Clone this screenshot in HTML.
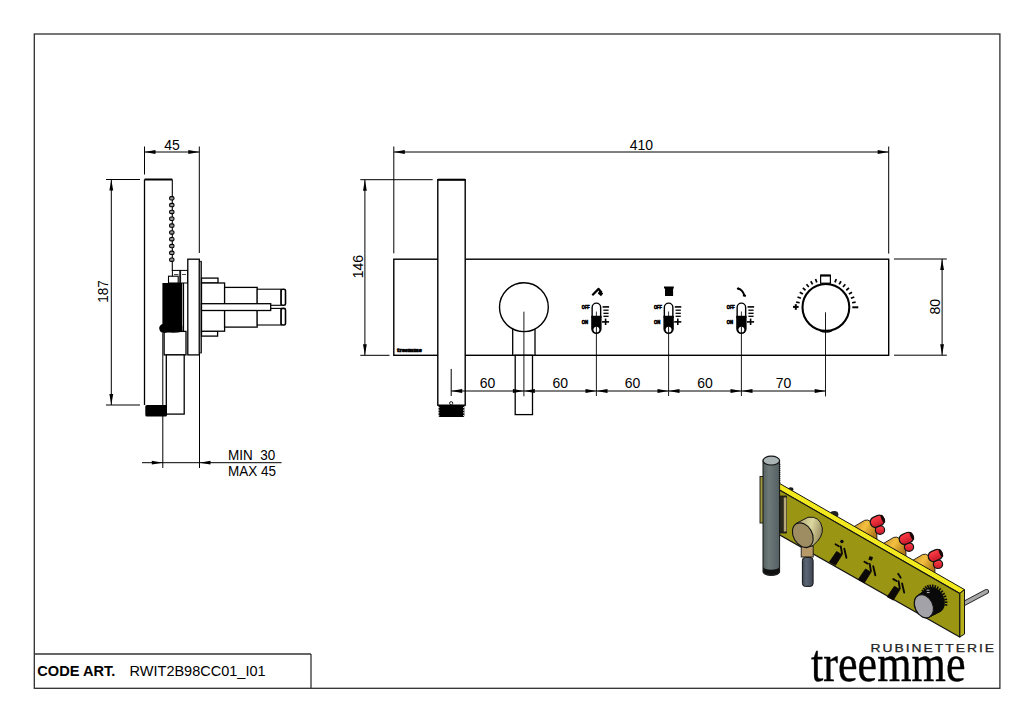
<!DOCTYPE html>
<html><head><meta charset="utf-8"><style>
html,body{margin:0;padding:0;background:#fff;overflow:hidden;}
svg{display:block;}
</style></head><body>
<svg width="1024" height="723" viewBox="0 0 1024 723">
<rect x="0" y="0" width="1024" height="723" fill="#fff"/>
<rect x="34.3" y="34.0" width="965.6" height="654.3" fill="none" stroke="#2e2e2e" stroke-width="1.3"/>
<line x1="34.5" y1="654" x2="311" y2="654" stroke="#333" stroke-width="1.3"/>
<line x1="311" y1="654" x2="311" y2="688" stroke="#333" stroke-width="1.3"/>
<text x="0" y="0" font-family="Liberation Sans" font-size="14.6" text-anchor="start" font-weight="bold" fill="#000" transform="translate(37.3 675.6)" >CODE ART.</text>
<text x="0" y="0" font-family="Liberation Sans" font-size="14.5" text-anchor="start" font-weight="normal" fill="#000" transform="translate(129.6 675.6)" >RWIT2B98CC01_I01</text>
<line x1="144.5" y1="179.5" x2="144.5" y2="405" stroke="#000" stroke-width="1.3"/>
<line x1="144.5" y1="179.5" x2="172.3" y2="179.5" stroke="#000" stroke-width="2.0"/>
<line x1="172.3" y1="179.5" x2="172.3" y2="271" stroke="#000" stroke-width="1.1"/>
<rect x="169.60" y="196.60" width="4.4" height="3.4" rx="1.4" fill="#999" stroke="#000" stroke-width="1.1"/>
<rect x="169.60" y="203.42" width="4.4" height="3.4" rx="1.4" fill="#999" stroke="#000" stroke-width="1.1"/>
<rect x="169.60" y="210.24" width="4.4" height="3.4" rx="1.4" fill="#999" stroke="#000" stroke-width="1.1"/>
<rect x="169.60" y="217.06" width="4.4" height="3.4" rx="1.4" fill="#999" stroke="#000" stroke-width="1.1"/>
<rect x="169.60" y="223.88" width="4.4" height="3.4" rx="1.4" fill="#999" stroke="#000" stroke-width="1.1"/>
<rect x="169.60" y="230.70" width="4.4" height="3.4" rx="1.4" fill="#999" stroke="#000" stroke-width="1.1"/>
<rect x="169.60" y="237.52" width="4.4" height="3.4" rx="1.4" fill="#999" stroke="#000" stroke-width="1.1"/>
<rect x="169.60" y="244.34" width="4.4" height="3.4" rx="1.4" fill="#999" stroke="#000" stroke-width="1.1"/>
<rect x="169.60" y="251.16" width="4.4" height="3.4" rx="1.4" fill="#999" stroke="#000" stroke-width="1.1"/>
<rect x="169.60" y="257.98" width="4.4" height="3.4" rx="1.4" fill="#999" stroke="#000" stroke-width="1.1"/>
<rect x="172.4" y="270.4" width="7.4" height="12.6" fill="#fff" stroke="#000" stroke-width="1.0"/>
<rect x="180.6" y="270.4" width="6.9" height="12.6" fill="#fff" stroke="#000" stroke-width="1.0"/>
<line x1="174" y1="274.5" x2="178.5" y2="274.5" stroke="#000" stroke-width="0.7"/>
<line x1="182" y1="274.5" x2="186" y2="274.5" stroke="#000" stroke-width="0.7"/>
<rect x="168.5" y="276.2" width="9.7" height="6.8" fill="#fff" stroke="#000" stroke-width="1.1"/>
<rect x="162.4" y="283" width="19.9" height="48.4" fill="#000"/>
<line x1="183.5" y1="283" x2="183.5" y2="331.4" stroke="#000" stroke-width="1.2"/>
<rect x="164.1" y="331.4" width="21.9" height="23.5" fill="#fff" stroke="#000" stroke-width="1.3"/>
<path d="M162.5 324 Q159 325.5 159.2 328.5 Q159.8 332.5 163.5 333 Q167 332.2 170 332.6 Q176 333 182.3 331.8 L182.3 326 Z" fill="#000"/>
<path d="M145 409.00 h1.2" stroke="#fff" stroke-width="0.8"/>
<path d="M145 411.40 h1.2" stroke="#fff" stroke-width="0.8"/>
<path d="M145 413.80 h1.2" stroke="#fff" stroke-width="0.8"/>
<path d="M145 416.20 h1.2" stroke="#fff" stroke-width="0.8"/>
<rect x="166.3" y="354.9" width="17.9" height="59.2" fill="#fff" stroke="#000" stroke-width="1.3"/>
<rect x="145.3" y="405" width="21.7" height="11.6" rx="1.5" fill="#000"/>
<rect x="187.8" y="259.2" width="11.5" height="95.7" fill="#fff" stroke="#000" stroke-width="1.3"/>
<rect x="199.3" y="261.3" width="2.2" height="91.7" fill="#888" stroke="#000" stroke-width="0.8"/>
<rect x="201.5" y="278.1" width="16.5" height="4.9" fill="#fff" stroke="#000" stroke-width="1.3"/>
<rect x="201.5" y="331.2" width="16.1" height="4.9" fill="#fff" stroke="#000" stroke-width="1.3"/>
<rect x="201.5" y="283" width="23.1" height="48.2" fill="#fff" stroke="#000" stroke-width="1.3"/>
<rect x="224.6" y="287.4" width="32.6" height="39.7" fill="#fff" stroke="#000" stroke-width="1.3"/>
<rect x="257.2" y="289.2" width="23.9" height="16.1" fill="#fff" stroke="#000" stroke-width="1.1"/>
<rect x="257.2" y="308.4" width="23.9" height="16.6" fill="#fff" stroke="#000" stroke-width="1.1"/>
<rect x="281.1" y="289.2" width="4.4" height="16.1" rx="1.6" fill="#fff" stroke="#000" stroke-width="1.6"/>
<rect x="281.1" y="308.4" width="4.4" height="16.6" rx="1.6" fill="#fff" stroke="#000" stroke-width="1.6"/>
<rect x="201.5" y="303.7" width="69.2" height="6.8" fill="#fff" stroke="#000" stroke-width="1.3"/>
<rect x="393.8" y="259.2" width="494.9" height="96.1" fill="#fff" stroke="#000" stroke-width="1.4"/>
<rect x="437.8" y="179.7" width="27.4" height="225.5" fill="#fff" stroke="#000" stroke-width="1.4"/>
<line x1="437.8" y1="179.7" x2="465.2" y2="179.7" stroke="#000" stroke-width="2.0"/>
<rect x="438.5" y="405" width="25.9" height="12.1" rx="1.5" fill="#000"/>
<circle cx="451.2" cy="403.2" r="1.6" fill="#fff" stroke="#000" stroke-width="0.9"/>
<path d="M438 407.60 h1.4 M464.4 407.60 h-1.4" stroke="#fff" stroke-width="0.9"/>
<path d="M438 410.20 h1.4 M464.4 410.20 h-1.4" stroke="#fff" stroke-width="0.9"/>
<path d="M438 412.80 h1.4 M464.4 412.80 h-1.4" stroke="#fff" stroke-width="0.9"/>
<path d="M438 415.40 h1.4 M464.4 415.40 h-1.4" stroke="#fff" stroke-width="0.9"/>
<text x="397" y="352.4" font-family="Liberation Serif" font-size="6" font-weight="bold" fill="#000" stroke="#000" stroke-width="0.7" textLength="24.6" lengthAdjust="spacingAndGlyphs">treemme</text>
<path d="M512.7 355.3 V325 M535 355.3 V325" stroke="#000" stroke-width="1.3"/>
<circle cx="523.9" cy="307.2" r="24.4" fill="#fff" stroke="#000" stroke-width="1.4"/>
<rect x="515.2" y="355.3" width="17.3" height="59.3" fill="#fff" stroke="#000" stroke-width="1.3"/>
<line x1="523.9" y1="311.7" x2="523.9" y2="396.3" stroke="#000" stroke-width="0.9"/>
<line x1="852.1" y1="302.73" x2="855.64" y2="302.11" stroke="#000" stroke-width="1.7"/>
<line x1="850.9" y1="298.25" x2="854.28" y2="297.02" stroke="#000" stroke-width="1.7"/>
<line x1="848.94" y1="294.05" x2="852.05" y2="292.25" stroke="#000" stroke-width="1.7"/>
<line x1="846.28" y1="290.25" x2="849.03" y2="287.94" stroke="#000" stroke-width="1.7"/>
<line x1="843.0" y1="286.97" x2="845.31" y2="284.22" stroke="#000" stroke-width="1.7"/>
<line x1="839.2" y1="284.31" x2="841.0" y2="281.2" stroke="#000" stroke-width="1.7"/>
<line x1="835.0" y1="282.35" x2="836.23" y2="278.97" stroke="#000" stroke-width="1.7"/>
<line x1="816.8" y1="282.35" x2="815.57" y2="278.97" stroke="#000" stroke-width="1.7"/>
<line x1="812.6" y1="284.31" x2="810.8" y2="281.2" stroke="#000" stroke-width="1.7"/>
<line x1="808.8" y1="286.97" x2="806.49" y2="284.22" stroke="#000" stroke-width="1.7"/>
<line x1="805.52" y1="290.25" x2="802.77" y2="287.94" stroke="#000" stroke-width="1.7"/>
<line x1="802.86" y1="294.05" x2="799.75" y2="292.25" stroke="#000" stroke-width="1.7"/>
<line x1="800.9" y1="298.25" x2="797.52" y2="297.02" stroke="#000" stroke-width="1.7"/>
<line x1="799.7" y1="302.73" x2="796.16" y2="302.11" stroke="#000" stroke-width="1.7"/>
<rect x="820.6" y="275.2" width="9.8" height="8" fill="#fff" stroke="#000" stroke-width="1.2"/>
<line x1="820.6" y1="275.6" x2="830.4" y2="275.6" stroke="#000" stroke-width="2"/>
<circle cx="825.9" cy="307.35" r="23.4" fill="#fff" stroke="#000" stroke-width="2.1"/>
<path d="M820 330.6 Q826 333.5 832 330.6" stroke="#000" stroke-width="1.6" fill="none"/>
<line x1="793" y1="306.9" x2="798.6" y2="306.9" stroke="#000" stroke-width="2"/>
<line x1="795.8" y1="304.2" x2="795.8" y2="309.8" stroke="#000" stroke-width="2"/>
<line x1="852.3" y1="307.3" x2="858.3" y2="307.3" stroke="#000" stroke-width="2"/>
<line x1="825.5" y1="312.3" x2="825.5" y2="396.4" stroke="#000" stroke-width="0.9"/>
<line x1="602.6" y1="306.9" x2="609.1" y2="306.9" stroke="#000" stroke-width="1.6"/>
<line x1="603.4" y1="310.2" x2="608.6" y2="310.2" stroke="#000" stroke-width="1.3"/>
<line x1="603.4" y1="313.3" x2="608.6" y2="313.3" stroke="#000" stroke-width="1.3"/>
<line x1="603.4" y1="316.3" x2="608.6" y2="316.3" stroke="#000" stroke-width="1.3"/>
<line x1="602.0" y1="321.9" x2="609.1" y2="321.9" stroke="#000" stroke-width="1.6"/>
<line x1="605.6" y1="318.6" x2="605.6" y2="325.0" stroke="#000" stroke-width="1.6"/>
<path d="M592.15 318 V307.4 A4.25 4.25 0 0 1 600.65 307.4 V318" fill="#fff" stroke="#000" stroke-width="1.4"/>
<line x1="596.4" y1="311.5" x2="596.4" y2="316" stroke="#000" stroke-width="0.8"/>
<path d="M591.1999999999999 315.8 H601.6 V328.8 A5.2 5.2 0 0 1 591.1999999999999 328.8 Z" fill="#000"/>
<circle cx="596.4" cy="329.6" r="2.9" fill="#fff"/>
<line x1="596.4" y1="326.5" x2="596.4" y2="396" stroke="#000" stroke-width="0.9"/>
<text x="581.8" y="309.2" font-family="Liberation Sans" font-size="4.6" font-weight="bold" fill="#000" stroke="#000" stroke-width="0.55" textLength="8" lengthAdjust="spacingAndGlyphs">OFF</text>
<text x="581.8" y="324.2" font-family="Liberation Sans" font-size="4.6" font-weight="bold" fill="#000" stroke="#000" stroke-width="0.55" textLength="6.3" lengthAdjust="spacingAndGlyphs">ON</text>
<line x1="674.8000000000001" y1="306.9" x2="681.3000000000001" y2="306.9" stroke="#000" stroke-width="1.6"/>
<line x1="675.6" y1="310.2" x2="680.8000000000001" y2="310.2" stroke="#000" stroke-width="1.3"/>
<line x1="675.6" y1="313.3" x2="680.8000000000001" y2="313.3" stroke="#000" stroke-width="1.3"/>
<line x1="675.6" y1="316.3" x2="680.8000000000001" y2="316.3" stroke="#000" stroke-width="1.3"/>
<line x1="674.2" y1="321.9" x2="681.3000000000001" y2="321.9" stroke="#000" stroke-width="1.6"/>
<line x1="677.8000000000001" y1="318.6" x2="677.8000000000001" y2="325.0" stroke="#000" stroke-width="1.6"/>
<path d="M664.35 318 V307.4 A4.25 4.25 0 0 1 672.85 307.4 V318" fill="#fff" stroke="#000" stroke-width="1.4"/>
<line x1="668.6" y1="311.5" x2="668.6" y2="316" stroke="#000" stroke-width="0.8"/>
<path d="M663.4 315.8 H673.8000000000001 V328.8 A5.2 5.2 0 0 1 663.4 328.8 Z" fill="#000"/>
<circle cx="668.6" cy="329.6" r="2.9" fill="#fff"/>
<line x1="668.6" y1="326.5" x2="668.6" y2="396" stroke="#000" stroke-width="0.9"/>
<text x="654.0" y="309.2" font-family="Liberation Sans" font-size="4.6" font-weight="bold" fill="#000" stroke="#000" stroke-width="0.55" textLength="8" lengthAdjust="spacingAndGlyphs">OFF</text>
<text x="654.0" y="324.2" font-family="Liberation Sans" font-size="4.6" font-weight="bold" fill="#000" stroke="#000" stroke-width="0.55" textLength="6.3" lengthAdjust="spacingAndGlyphs">ON</text>
<line x1="747.6" y1="306.9" x2="754.1" y2="306.9" stroke="#000" stroke-width="1.6"/>
<line x1="748.4" y1="310.2" x2="753.6" y2="310.2" stroke="#000" stroke-width="1.3"/>
<line x1="748.4" y1="313.3" x2="753.6" y2="313.3" stroke="#000" stroke-width="1.3"/>
<line x1="748.4" y1="316.3" x2="753.6" y2="316.3" stroke="#000" stroke-width="1.3"/>
<line x1="747.0" y1="321.9" x2="754.1" y2="321.9" stroke="#000" stroke-width="1.6"/>
<line x1="750.6" y1="318.6" x2="750.6" y2="325.0" stroke="#000" stroke-width="1.6"/>
<path d="M737.15 318 V307.4 A4.25 4.25 0 0 1 745.65 307.4 V318" fill="#fff" stroke="#000" stroke-width="1.4"/>
<line x1="741.4" y1="311.5" x2="741.4" y2="316" stroke="#000" stroke-width="0.8"/>
<path d="M736.1999999999999 315.8 H746.6 V328.8 A5.2 5.2 0 0 1 736.1999999999999 328.8 Z" fill="#000"/>
<circle cx="741.4" cy="329.6" r="2.9" fill="#fff"/>
<line x1="741.4" y1="326.5" x2="741.4" y2="396" stroke="#000" stroke-width="0.9"/>
<text x="726.8" y="309.2" font-family="Liberation Sans" font-size="4.6" font-weight="bold" fill="#000" stroke="#000" stroke-width="0.55" textLength="8" lengthAdjust="spacingAndGlyphs">OFF</text>
<text x="726.8" y="324.2" font-family="Liberation Sans" font-size="4.6" font-weight="bold" fill="#000" stroke="#000" stroke-width="0.55" textLength="6.3" lengthAdjust="spacingAndGlyphs">ON</text>
<path d="M592.3 295.2 L598.6 288.9 L601.8 292.6" stroke="#000" stroke-width="2.2" fill="none" stroke-linejoin="round"/>
<path d="M599.5 290.5 L603.2 293.6 L601 296.3 L597.8 293.4 Z" fill="#000"/>
<path d="M664 286.4 H673.8 V288.6 H673.1 V296.1 H665 V288.6 H664 Z" fill="#000"/>
<path d="M737.8 288.4 Q742.5 289.2 744.6 295.8" stroke="#000" stroke-width="2" fill="none"/>
<path d="M743 293.5 L746.2 295.2 L745.5 297 L742.8 296.3 Z" fill="#000"/>
<circle cx="738.1" cy="288.6" r="1.2" fill="#000"/>
<line x1="144.5" y1="146.5" x2="144.5" y2="174.5" stroke="#000" stroke-width="1"/>
<line x1="199.3" y1="146.5" x2="199.3" y2="253" stroke="#000" stroke-width="1"/>
<line x1="144.5" y1="152" x2="199.3" y2="152" stroke="#000" stroke-width="1"/>
<polygon points="144.50,152.00 155.50,150.10 155.50,153.90" fill="#000"/>
<polygon points="199.30,152.00 188.30,150.10 188.30,153.90" fill="#000"/>
<text x="0" y="0" font-family="Liberation Sans" font-size="14" text-anchor="middle" font-weight="normal" fill="#000" transform="translate(172 149.5) scale(1 1.08)" >45</text>
<line x1="106" y1="179.5" x2="140" y2="179.5" stroke="#000" stroke-width="1"/>
<line x1="106" y1="405" x2="140" y2="405" stroke="#000" stroke-width="1"/>
<line x1="111.3" y1="179.5" x2="111.3" y2="405" stroke="#000" stroke-width="1"/>
<polygon points="111.30,179.50 109.40,190.50 113.20,190.50" fill="#000"/>
<polygon points="111.30,405.00 109.40,394.00 113.20,394.00" fill="#000"/>
<text x="0" y="0" font-family="Liberation Sans" font-size="13.5" text-anchor="middle" font-weight="normal" fill="#000" transform="translate(108.2 291.6) rotate(-90) scale(1 1.08)" >187</text>
<line x1="162.8" y1="333" x2="162.8" y2="468" stroke="#000" stroke-width="1"/>
<line x1="199.5" y1="355" x2="199.5" y2="468" stroke="#000" stroke-width="1"/>
<line x1="142" y1="462.7" x2="281.6" y2="462.7" stroke="#000" stroke-width="1"/>
<polygon points="162.80,462.70 151.80,460.80 151.80,464.60" fill="#000"/>
<polygon points="199.50,462.70 210.50,460.80 210.50,464.60" fill="#000"/>
<text x="0" y="0" font-family="Liberation Sans" font-size="13.5" text-anchor="start" font-weight="normal" fill="#000" transform="translate(228 459.5) scale(1 1.08)" >MIN&#160;&#160;30</text>
<text x="0" y="0" font-family="Liberation Sans" font-size="13.5" text-anchor="start" font-weight="normal" fill="#000" transform="translate(228 475.5) scale(1 1.08)" >MAX 45</text>
<line x1="393.8" y1="146.5" x2="393.8" y2="253.3" stroke="#000" stroke-width="1"/>
<line x1="888.7" y1="146.5" x2="888.7" y2="253.6" stroke="#000" stroke-width="1"/>
<line x1="393.8" y1="152" x2="888.7" y2="152" stroke="#000" stroke-width="1"/>
<polygon points="393.80,152.00 404.80,150.10 404.80,153.90" fill="#000"/>
<polygon points="888.70,152.00 877.70,150.10 877.70,153.90" fill="#000"/>
<text x="0" y="0" font-family="Liberation Sans" font-size="14" text-anchor="middle" font-weight="normal" fill="#000" transform="translate(641.4 149.7) scale(1 1.08)" >410</text>
<line x1="360.3" y1="179.7" x2="432.7" y2="179.7" stroke="#000" stroke-width="1"/>
<line x1="360.3" y1="355.3" x2="389.5" y2="355.3" stroke="#000" stroke-width="1"/>
<line x1="364.9" y1="179.7" x2="364.9" y2="355.3" stroke="#000" stroke-width="1"/>
<polygon points="364.90,179.70 363.00,190.70 366.80,190.70" fill="#000"/>
<polygon points="364.90,355.30 363.00,344.30 366.80,344.30" fill="#000"/>
<text x="0" y="0" font-family="Liberation Sans" font-size="14" text-anchor="middle" font-weight="normal" fill="#000" transform="translate(363.4 266.6) rotate(-90) scale(1 1.08)" >146</text>
<line x1="894" y1="259" x2="946.8" y2="259" stroke="#000" stroke-width="1"/>
<line x1="894" y1="355.2" x2="946.8" y2="355.2" stroke="#000" stroke-width="1"/>
<line x1="942.1" y1="259" x2="942.1" y2="355.2" stroke="#000" stroke-width="1"/>
<polygon points="942.10,259.00 940.20,270.00 944.00,270.00" fill="#000"/>
<polygon points="942.10,355.20 940.20,344.20 944.00,344.20" fill="#000"/>
<text x="0" y="0" font-family="Liberation Sans" font-size="14" text-anchor="middle" font-weight="normal" fill="#000" transform="translate(939.8 306.8) rotate(-90) scale(1 1.08)" >80</text>
<line x1="451.2" y1="368.9" x2="451.2" y2="396" stroke="#000" stroke-width="1"/>
<line x1="451.2" y1="391" x2="825.7" y2="391" stroke="#000" stroke-width="1"/>
<polygon points="451.20,391.00 462.20,389.10 462.20,392.90" fill="#000"/>
<polygon points="523.90,391.00 512.90,389.10 512.90,392.90" fill="#000"/>
<text x="0" y="0" font-family="Liberation Sans" font-size="14" text-anchor="middle" font-weight="normal" fill="#000" transform="translate(487.54999999999995 388.2) scale(1 1.08)" >60</text>
<polygon points="523.90,391.00 534.90,389.10 534.90,392.90" fill="#000"/>
<polygon points="596.50,391.00 585.50,389.10 585.50,392.90" fill="#000"/>
<text x="0" y="0" font-family="Liberation Sans" font-size="14" text-anchor="middle" font-weight="normal" fill="#000" transform="translate(560.2 388.2) scale(1 1.08)" >60</text>
<polygon points="596.50,391.00 607.50,389.10 607.50,392.90" fill="#000"/>
<polygon points="668.50,391.00 657.50,389.10 657.50,392.90" fill="#000"/>
<text x="0" y="0" font-family="Liberation Sans" font-size="14" text-anchor="middle" font-weight="normal" fill="#000" transform="translate(632.5 388.2) scale(1 1.08)" >60</text>
<polygon points="668.50,391.00 679.50,389.10 679.50,392.90" fill="#000"/>
<polygon points="741.50,391.00 730.50,389.10 730.50,392.90" fill="#000"/>
<text x="0" y="0" font-family="Liberation Sans" font-size="14" text-anchor="middle" font-weight="normal" fill="#000" transform="translate(705.0 388.2) scale(1 1.08)" >60</text>
<polygon points="741.50,391.00 752.50,389.10 752.50,392.90" fill="#000"/>
<polygon points="825.70,391.00 814.70,389.10 814.70,392.90" fill="#000"/>
<text x="0" y="0" font-family="Liberation Sans" font-size="14" text-anchor="middle" font-weight="normal" fill="#000" transform="translate(783.6 388.2) scale(1 1.08)" >70</text>
<defs>
<linearGradient id="gold" x1="0" y1="0" x2="1" y2="0.6"><stop offset="0" stop-color="#c89028"/><stop offset="0.5" stop-color="#f4c040"/><stop offset="1" stop-color="#b07818"/></linearGradient>
<linearGradient id="pole" x1="0" y1="0" x2="1" y2="0"><stop offset="0" stop-color="#56625f"/><stop offset="0.35" stop-color="#6e7a7a"/><stop offset="1" stop-color="#525e60"/></linearGradient>
<linearGradient id="stub" x1="0" y1="0" x2="1" y2="0"><stop offset="0" stop-color="#3e4654"/><stop offset="0.35" stop-color="#5c6674"/><stop offset="1" stop-color="#3e4654"/></linearGradient>
<linearGradient id="puckside" x1="0" y1="0" x2="1" y2="0.3"><stop offset="0" stop-color="#a89a6c"/><stop offset="0.6" stop-color="#dcd8a0"/><stop offset="1" stop-color="#a09466"/></linearGradient>
<linearGradient id="red" x1="0" y1="0" x2="0" y2="1"><stop offset="0" stop-color="#ff4048"/><stop offset="1" stop-color="#c81828"/></linearGradient>
</defs>
<rect x="760" y="476.5" width="4" height="46.5" fill="#a09a3c" stroke="#141414" stroke-width="0.9"/>
<ellipse cx="790.8" cy="489.6" rx="2.6" ry="2.3" fill="#1a1a1a"/>
<ellipse cx="834.2" cy="514.4" rx="4.2" ry="3.4" fill="#222"/>
<path d="M854.40,526.40 L864.70,520.30 Q867.60,519.20 870.50,521.40 Q875.90,525.20 876.90,535.00 L876.90,540.00 L854.40,529.50 Z" fill="url(#gold)" stroke="#141414" stroke-width="0.9"/>
<ellipse cx="880.00" cy="530.00" rx="4.6" ry="4.3" fill="url(#red)" stroke="#141414" stroke-width="1.2"/>
<rect x="870.10" y="516.10" width="14.4" height="10.4" rx="5" fill="url(#red)" stroke="#141414" stroke-width="1.3" transform="rotate(-24 877.30 521.30)"/>
<ellipse cx="882.90" cy="518.80" rx="1.5" ry="4.3" fill="#1a0808" transform="rotate(-24 882.90 518.80)"/>
<path d="M883.40,543.50 L893.70,537.40 Q896.60,536.30 899.50,538.50 Q904.90,542.30 905.90,552.10 L905.90,557.10 L883.40,546.60 Z" fill="url(#gold)" stroke="#141414" stroke-width="0.9"/>
<ellipse cx="909.00" cy="547.10" rx="4.6" ry="4.3" fill="url(#red)" stroke="#141414" stroke-width="1.2"/>
<rect x="899.10" y="533.20" width="14.4" height="10.4" rx="5" fill="url(#red)" stroke="#141414" stroke-width="1.3" transform="rotate(-24 906.30 538.40)"/>
<ellipse cx="911.90" cy="535.90" rx="1.5" ry="4.3" fill="#1a0808" transform="rotate(-24 911.90 535.90)"/>
<path d="M912.40,560.60 L922.70,554.50 Q925.60,553.40 928.50,555.60 Q933.90,559.40 934.90,569.20 L934.90,574.20 L912.40,563.70 Z" fill="url(#gold)" stroke="#141414" stroke-width="0.9"/>
<ellipse cx="938.00" cy="564.20" rx="4.6" ry="4.3" fill="url(#red)" stroke="#141414" stroke-width="1.2"/>
<rect x="928.10" y="550.30" width="14.4" height="10.4" rx="5" fill="url(#red)" stroke="#141414" stroke-width="1.3" transform="rotate(-24 935.30 555.50)"/>
<ellipse cx="940.90" cy="553.00" rx="1.5" ry="4.3" fill="#1a0808" transform="rotate(-24 940.90 553.00)"/>
<line x1="963" y1="604" x2="986.5" y2="591.5" stroke="#222" stroke-width="5" stroke-linecap="round"/>
<line x1="963" y1="604" x2="986.5" y2="591.5" stroke="#a8a8a8" stroke-width="3.2" stroke-linecap="round"/>
<polygon points="772.00,479.11 964.50,589.60 959.70,593.40 772.00,485.66" fill="#f2ea1e" stroke="#141414" stroke-width="1"/>
<polygon points="959.70,593.40 964.50,589.60 964.50,634.10 959.70,637.00" fill="#b8b01a" stroke="#141414" stroke-width="1"/>
<polygon points="772.00,485.66 959.70,593.40 959.70,637.00 772.00,530.57" fill="#9a9614" stroke="#141414" stroke-width="1.1"/>
<rect x="779.5" y="496" width="7" height="37" fill="#2a281c" stroke="#141414" stroke-width="0.8"/>
<rect x="783.8" y="497.5" width="2.6" height="34" fill="#b8a878"/>
<path d="M763 460.5 V572 A8.3 3.5 0 0 0 779.6 572 V460.5 Z" fill="url(#pole)" stroke="#141414" stroke-width="1"/>
<path d="M763.3 567 A8.1 3.2 0 0 0 779.3 567 V572 A8.1 3.6 0 0 1 763.3 572 Z" fill="#111"/>
<ellipse cx="771.3" cy="460.6" rx="8.3" ry="4.4" fill="#aab4b4" stroke="#141414" stroke-width="1.2"/>
<line x1="779.6" y1="464" x2="779.6" y2="484" stroke="#111" stroke-width="1.4" stroke-dasharray="1 1"/>
<rect x="801.2" y="546" width="12" height="11" fill="#b89a6a" stroke="#141414" stroke-width="0.9"/>
<rect x="802.4" y="557.4" width="10.7" height="29" rx="3" fill="url(#stub)" stroke="#141414" stroke-width="1"/>
<path d="M796 523.5 L808 517.3 Q820 515.5 822.3 528 Q823.5 537 813 545.5 L806 548 Z" fill="url(#puckside)" stroke="#141414" stroke-width="1"/>
<ellipse cx="802.8" cy="535.1" rx="9.4" ry="13.0" fill="#9e8c62" stroke="#141414" stroke-width="1.1" transform="rotate(-30 802.8 535.1)"/>
<polygon points="829.40,562.00 835.50,565.30 842.10,554.80 836.60,551.50" fill="#0c0808" stroke="#0c0808" stroke-width="0.8" stroke-linejoin="round"/>
<circle cx="841.90" cy="541.50" r="1.7" fill="#0c0808"/>
<path d="M835.50,544.30 L838.80,546.20 M840.80,546.50 L842.00,553.70 M844.30,548.70 L846.40,557.80" stroke="#0c0808" stroke-width="1.9" fill="none" stroke-linecap="round"/>
<polygon points="858.30,579.40 864.40,582.70 871.00,572.20 865.50,568.90" fill="#0c0808" stroke="#0c0808" stroke-width="0.8" stroke-linejoin="round"/>
<rect x="868.90" y="556.40" width="3.6" height="3.8" fill="#0c0808" transform="rotate(20 870.70 558.40)"/>
<path d="M864.40,561.70 L867.70,563.60 M869.70,563.90 L870.90,571.10 M873.20,566.10 L875.30,575.20" stroke="#0c0808" stroke-width="1.9" fill="none" stroke-linecap="round"/>
<polygon points="887.20,596.80 893.30,600.10 899.90,589.60 894.40,586.30" fill="#0c0808" stroke="#0c0808" stroke-width="0.8" stroke-linejoin="round"/>
<path d="M898.20,573.80 L900.70,577.80" stroke="#0c0808" stroke-width="1.8" stroke-linecap="round"/>
<path d="M893.30,579.10 L896.60,581.00 M898.60,581.30 L899.80,588.50 M902.10,583.50 L904.20,592.60" stroke="#0c0808" stroke-width="1.9" fill="none" stroke-linecap="round"/>
<ellipse cx="933.80" cy="600.00" rx="10.30" ry="13.60" fill="#0a0a0a" transform="rotate(-28 933.80 600.00)"/>
<ellipse cx="932.39" cy="600.89" rx="10.17" ry="13.46" fill="#0a0a0a" transform="rotate(-28 932.39 600.89)"/>
<ellipse cx="930.97" cy="601.77" rx="10.04" ry="13.31" fill="#0a0a0a" transform="rotate(-28 930.97 601.77)"/>
<ellipse cx="929.56" cy="602.66" rx="9.91" ry="13.17" fill="#0a0a0a" transform="rotate(-28 929.56 602.66)"/>
<ellipse cx="928.14" cy="603.54" rx="9.79" ry="13.03" fill="#0a0a0a" transform="rotate(-28 928.14 603.54)"/>
<ellipse cx="926.73" cy="604.43" rx="9.66" ry="12.89" fill="#0a0a0a" transform="rotate(-28 926.73 604.43)"/>
<ellipse cx="925.31" cy="605.31" rx="9.53" ry="12.74" fill="#0a0a0a" transform="rotate(-28 925.31 605.31)"/>
<ellipse cx="923.90" cy="606.20" rx="9.40" ry="12.60" fill="#0a0a0a" transform="rotate(-28 923.90 606.20)"/>
<line x1="924.14" y1="591.84" x2="921.74" y2="590.21" stroke="#0a0a0a" stroke-width="1.6"/>
<line x1="925.31" y1="590.07" x2="923.27" y2="588.01" stroke="#0a0a0a" stroke-width="1.6"/>
<line x1="926.81" y1="588.71" x2="925.23" y2="586.28" stroke="#0a0a0a" stroke-width="1.6"/>
<line x1="928.60" y1="587.80" x2="927.53" y2="585.10" stroke="#0a0a0a" stroke-width="1.6"/>
<line x1="930.59" y1="587.38" x2="930.09" y2="584.52" stroke="#0a0a0a" stroke-width="1.6"/>
<line x1="932.71" y1="587.47" x2="932.79" y2="584.57" stroke="#0a0a0a" stroke-width="1.6"/>
<line x1="934.88" y1="588.06" x2="935.53" y2="585.23" stroke="#0a0a0a" stroke-width="1.6"/>
<line x1="937.00" y1="589.13" x2="938.21" y2="586.49" stroke="#0a0a0a" stroke-width="1.6"/>
<line x1="939.00" y1="590.63" x2="940.70" y2="588.29" stroke="#0a0a0a" stroke-width="1.6"/>
<line x1="940.78" y1="592.51" x2="942.92" y2="590.56" stroke="#0a0a0a" stroke-width="1.6"/>
<line x1="942.29" y1="594.70" x2="944.78" y2="593.20" stroke="#0a0a0a" stroke-width="1.6"/>
<line x1="943.46" y1="597.09" x2="946.19" y2="596.12" stroke="#0a0a0a" stroke-width="1.6"/>
<line x1="944.23" y1="599.60" x2="947.10" y2="599.20" stroke="#0a0a0a" stroke-width="1.6"/>
<line x1="944.59" y1="602.13" x2="947.49" y2="602.31" stroke="#0a0a0a" stroke-width="1.6"/>
<line x1="944.52" y1="604.58" x2="947.32" y2="605.33" stroke="#0a0a0a" stroke-width="1.6"/>
<ellipse cx="923.9" cy="606.2" rx="8.9" ry="12.2" fill="#a2a2a8" stroke="#141414" stroke-width="1.2" transform="rotate(-26 923.9 606.2)"/>
<path d="M926.5 590.2 h3 M926.8 592.6 h2.8" stroke="#b8b8b8" stroke-width="1"/>
<text x="870.5" y="651.8" font-family="Liberation Sans" font-size="10.4" fill="#222" stroke="#222" stroke-width="0.25" letter-spacing="1.5" textLength="125.5" lengthAdjust="spacingAndGlyphs">RUBINETTERIE</text>
<text x="811" y="680.5" font-family="Liberation Serif" font-size="53" fill="#000" stroke="#000" stroke-width="0.4" textLength="154.5" lengthAdjust="spacingAndGlyphs">treemme</text>
</svg></body></html>
